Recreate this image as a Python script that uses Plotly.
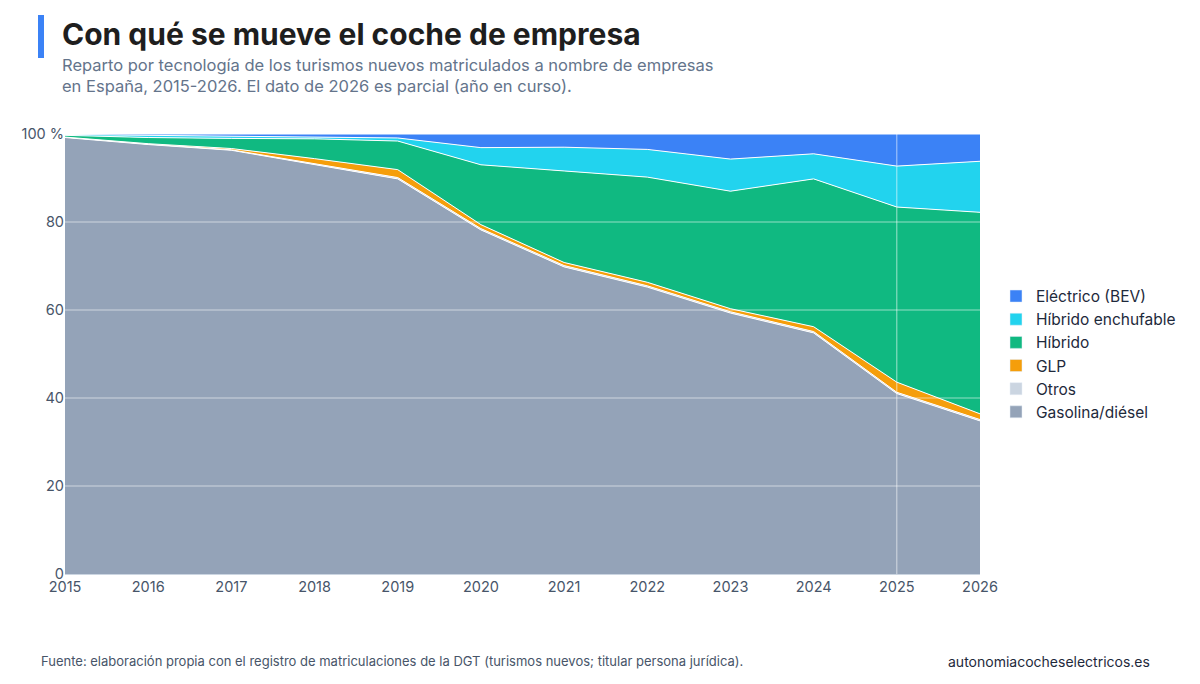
import plotly.graph_objects as go

years = [2015, 2016, 2017, 2018, 2019, 2020, 2021, 2022, 2023, 2024, 2025, 2026]
gasolina = [99.2, 97.6, 96.3, 93.0, 89.8, 78.2, 69.8, 65.2, 59.3, 54.8, 41.0, 34.8]
otros = [0.1, 0.1, 0.1, 0.2, 0.3, 0.3, 0.3, 0.3, 0.3, 0.3, 0.3, 0.3]
glp = [0.0, 0.1, 0.3, 1.2, 1.8, 0.9, 0.7, 0.8, 0.7, 1.1, 2.3, 1.3]
hibrido = [0.4, 1.4, 2.3, 4.5, 6.5, 13.6, 20.8, 23.9, 26.7, 33.6, 39.8, 45.8]
phev = [0.2, 0.5, 0.5, 0.4, 0.7, 3.9, 5.4, 6.3, 7.3, 5.7, 9.3, 11.6]
bev = [0.1, 0.3, 0.5, 0.7, 0.9, 3.1, 3.0, 3.5, 5.7, 4.5, 7.3, 6.2]
yticks = [0, 20, 40, 60, 80, 100]

series = [
    ("Gasolina/diésel", gasolina, "#94a3b8"),
    ("Otros", otros, "#cbd5e1"),
    ("GLP", glp, "#f59e0b"),
    ("Híbrido", hibrido, "#10b981"),
    ("Híbrido enchufable", phev, "#22d3ee"),
    ("Eléctrico (BEV)", bev, "#3b82f6"),
]

fig = go.Figure()
for name, vals, col in series:
    fig.add_trace(go.Scatter(x=years, y=vals, name=name, stackgroup="one",
                             mode="lines", line=dict(color="white", width=1),
                             fillcolor=col, showlegend=False))
for name, vals, col in series:
    fig.add_trace(go.Bar(x=[None], y=[None], name=name, marker=dict(color=col),
                         showlegend=True))

for v in yticks[1:-1]:
    fig.add_shape(type="line", xref="paper", yref="y", x0=0, x1=1, y0=v, y1=v,
                  line=dict(color="rgba(255,255,255,0.55)", width=1), layer="above")
fig.add_vline(x=2025, line=dict(color="rgba(255,255,255,0.6)", width=1), layer="above")

OFF = 8
W, H, L, T, PW, PH = 1185, 670, 57, 126, 915, 440
fig.update_layout(
    width=W, height=H,
    paper_bgcolor="white", plot_bgcolor="white",
    font=dict(family="Inter, sans-serif", color="#475569", size=14.5),
    margin=dict(l=L, r=W - L - PW, t=T, b=H - T - PH),
    barmode="overlay",
    legend=dict(xref="container", yref="container",
                x=(996 - OFF) / W, y=1 - (354 - OFF) / H,
                xanchor="left", yanchor="middle", traceorder="reversed",
                font=dict(size=15.5, color="#1e293b"), tracegroupgap=0,
                itemwidth=30, entrywidth=0),
    xaxis=dict(range=[2015, 2026], tickvals=years, showgrid=False, automargin=False,
               ticks="", zeroline=False, showline=True, linecolor="#cbd5e1"),
    yaxis=dict(range=[0, 100], tickvals=yticks, automargin=False,
               ticktext=["0", "20", "40", "60", "80", "100 %"],
               showgrid=False, zeroline=False, ticks=""),
)

def px(s):
    return (s - OFF - L) / PW

def py(s):
    return (T + PH - (s - OFF)) / PH

fig.add_shape(type="line", xref="paper", yref="paper",
              x0=px(41), x1=px(41), y0=py(58), y1=py(15),
              line=dict(color="#3b82f6", width=6))
fig.add_annotation(text="<b>Con qué se mueve el coche de empresa</b>",
                   xref="paper", yref="paper", x=px(60), y=py(34),
                   xanchor="left", yanchor="middle", showarrow=False,
                   font=dict(size=30, color="#1e1e1e"))
fig.add_annotation(text="Reparto por tecnología de los turismos nuevos matriculados a nombre de empresas<br>en España, 2015-2026. El dato de 2026 es parcial (año en curso).",
                   xref="paper", yref="paper", x=px(60), y=py(53),
                   xanchor="left", yanchor="top", showarrow=False, align="left",
                   font=dict(size=16.5, color="#64748b"))
fig.add_annotation(text="Fuente: elaboración propia con el registro de matriculaciones de la DGT (turismos nuevos; titular persona jurídica).",
                   xref="paper", yref="paper", x=px(39), y=py(661),
                   xanchor="left", yanchor="middle", showarrow=False,
                   font=dict(size=13, color="#475569"))
fig.add_annotation(text="autonomiacocheselectricos.es",
                   xref="paper", yref="paper", x=px(1152), y=py(661),
                   xanchor="right", yanchor="middle", showarrow=False,
                   font=dict(size=14, color="#1e293b"))

fig.write_html("out.html")
